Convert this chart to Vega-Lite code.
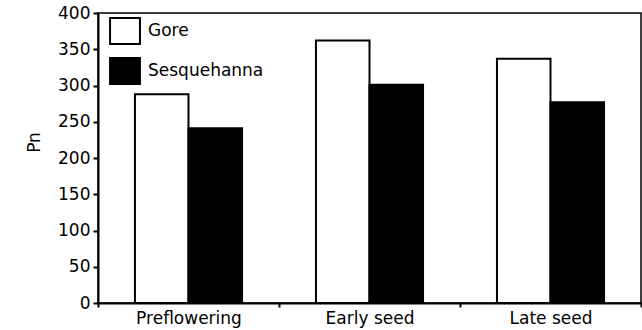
{
  "$schema": "https://vega.github.io/schema/vega-lite/v6.json",
  "autosize": "none",
  "padding": {"left": 98, "top": 13, "right": 1, "bottom": 27},
  "width": 543,
  "height": 290,
  "background": "white",
  "config": {
    "font": "DejaVu Sans",
    "view": {"stroke": "black", "strokeWidth": 1.5},
    "axis": {"grid": false, "domainColor": "black", "tickColor": "black", "labelColor": "black", "titleColor": "black", "labelFontSize": 17, "titleFontSize": 17, "titleFontWeight": "normal", "labelFont": "DejaVu Sans", "titleFont": "DejaVu Sans", "domainWidth": 2, "tickWidth": 2}
  },
  "data": {"values": [
    {"stage": "Preflowering", "cultivar": "Gore", "Pn": 288},
    {"stage": "Preflowering", "cultivar": "Sesquehanna", "Pn": 241},
    {"stage": "Early seed", "cultivar": "Gore", "Pn": 362},
    {"stage": "Early seed", "cultivar": "Sesquehanna", "Pn": 301},
    {"stage": "Late seed", "cultivar": "Gore", "Pn": 337},
    {"stage": "Late seed", "cultivar": "Sesquehanna", "Pn": 277}
  ]},
  "mark": {"type": "bar", "stroke": "black", "strokeWidth": 2},
  "encoding": {
    "x": {"field": "stage", "type": "nominal", "sort": ["Preflowering", "Early seed", "Late seed"],
      "scale": {"paddingInner": 0, "paddingOuter": 0},
      "axis": {"title": null, "labelAngle": 0, "tickBand": "extent", "tickSize": 4, "labelPadding": 3}},
    "xOffset": {"field": "cultivar", "type": "nominal", "sort": ["Gore", "Sesquehanna"],
      "scale": {"paddingInner": 0, "paddingOuter": 0.69}},
    "y": {"field": "Pn", "type": "quantitative", "scale": {"domain": [0, 400]},
      "axis": {"title": "Pn", "values": [0, 50, 100, 150, 200, 250, 300, 350, 400], "tickSize": 5, "labelPadding": 3, "titleAngle": 270, "titleX": -59, "titleY": 129, "titleAlign": "center", "titleBaseline": "alphabetic"}},
    "fill": {"field": "cultivar", "type": "nominal", "sort": ["Gore", "Sesquehanna"],
      "scale": {"domain": ["Gore", "Sesquehanna"], "range": ["white", "black"]},
      "legend": {"title": null, "orient": "none", "legendX": 13, "legendY": 4, "symbolType": "M-1.15,-1L1.15,-1L1.15,1L-1.15,1Z", "symbolSize": 676, "symbolStrokeColor": "black", "symbolStrokeWidth": 2, "labelFontSize": 17, "labelFont": "DejaVu Sans", "labelColor": "black", "rowPadding": 6, "labelOffset": 9, "padding": 0}}
  }
}
